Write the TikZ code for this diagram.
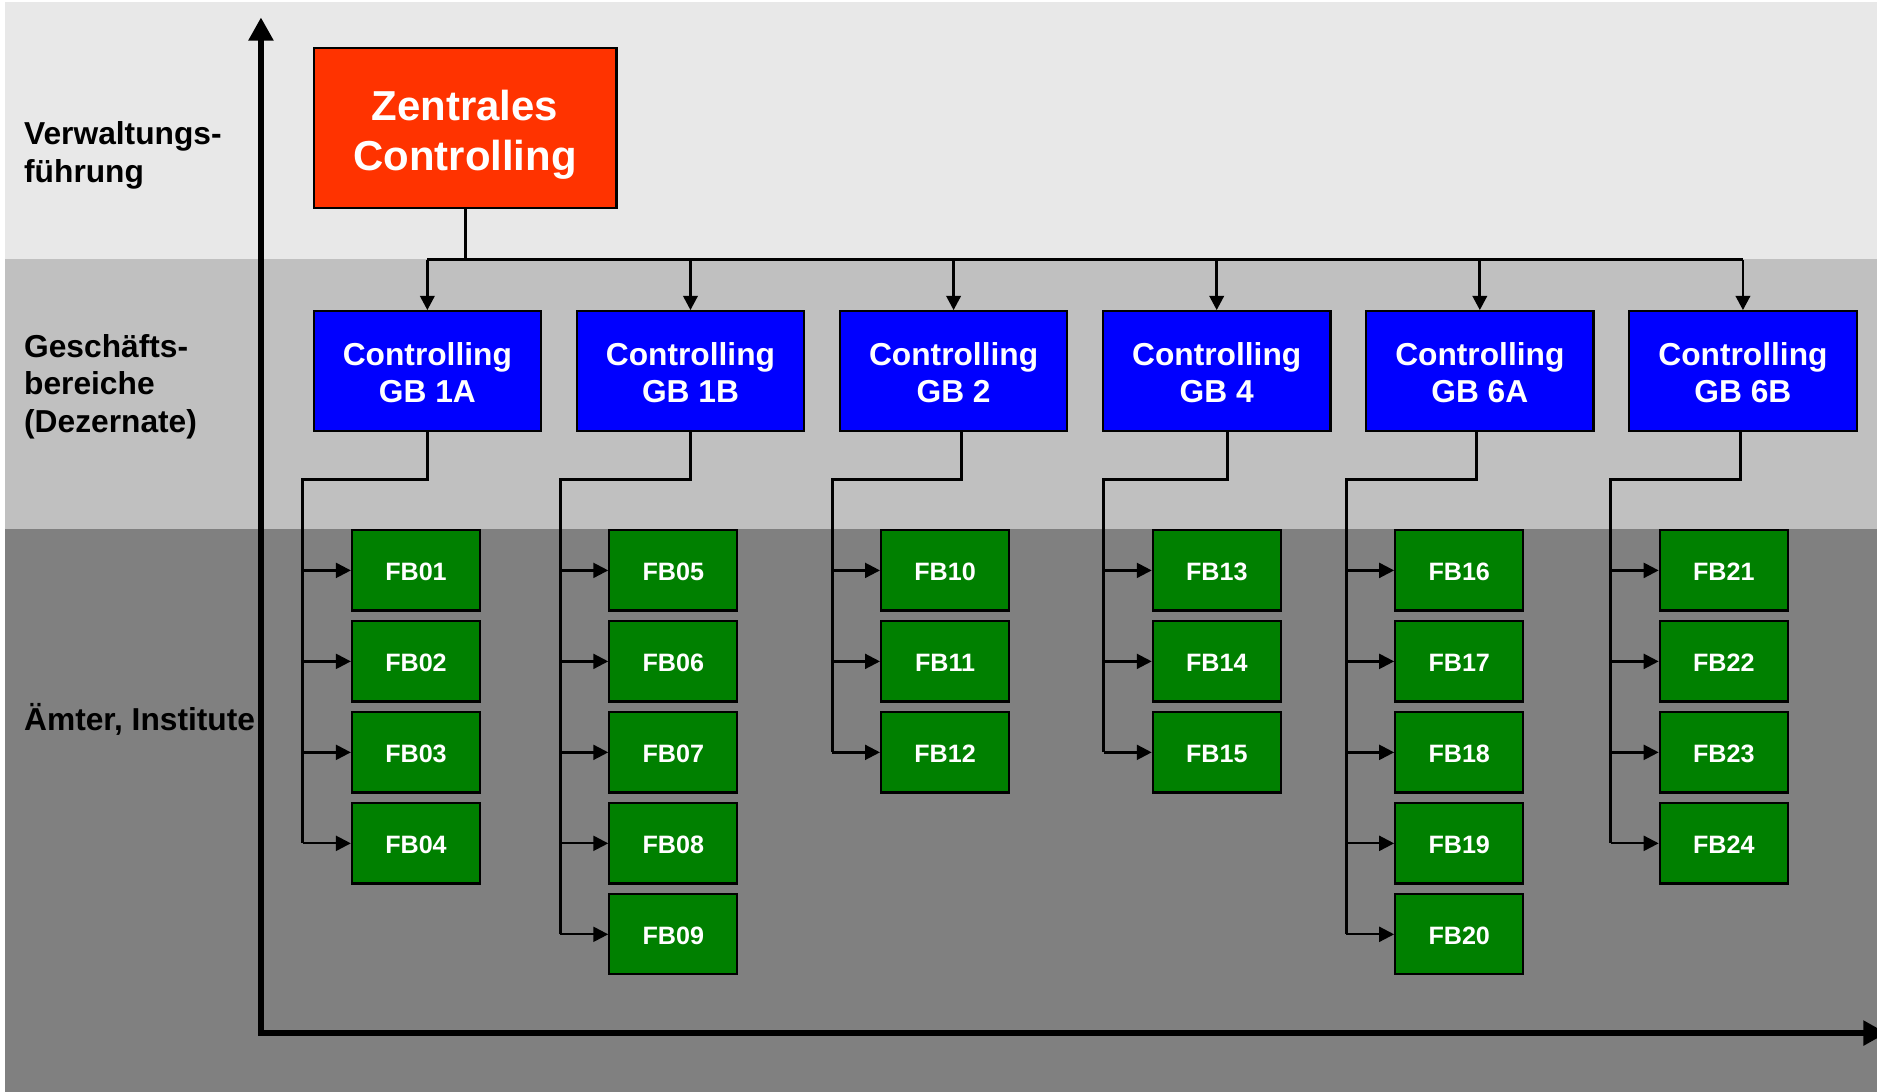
\documentclass[tikz,border=0pt]{standalone}
\usepackage{fontspec}
\setmainfont{Liberation Sans}
\usetikzlibrary{arrows.meta}
\definecolor{bandtop}{HTML}{E8E8E8}
\definecolor{bandmid}{HTML}{C0C0C0}
\definecolor{bandlow}{HTML}{808080}
\definecolor{ctrlred}{HTML}{FF3300}
\definecolor{ctrlblue}{HTML}{0000FF}
\definecolor{ctrlgreen}{HTML}{008000}
\newcommand{\topgap}[1]{\rule{0pt}{#1}}

\begin{document}
\begin{tikzpicture}[x=1pt,y=-1pt,
    box/.style={draw=black, line width=1.8pt, inner sep=0pt, text=white, align=center},
    zentral/.style={box, fill=ctrlred, minimum width=253pt, minimum height=134pt,
        font=\bfseries\fontsize{35}{42}\selectfont},
    gbbox/.style={box, fill=ctrlblue, minimum width=190pt, minimum height=100pt,
        font=\bfseries\fontsize{26.5}{31}\selectfont},
    fbbox/.style={box, fill=ctrlgreen, minimum width=107pt, minimum height=67pt,
        font=\bfseries\fontsize{21}{25}\selectfont},
    level/.style={anchor=west, align=left, inner sep=0pt,
        font=\bfseries\fontsize{26.5}{31.5}\selectfont},
    line/.style={line width=2.5pt},
    link/.style={line width=2.4pt, -{Triangle[length=12pt,width=12pt]}},
    sublink/.style={line width=1.9pt, -{Triangle[length=12.5pt,width=12.5pt]}},
    axis/.style={line width=5.5pt, line join=miter,
        {Triangle[length=19.5pt,width=20pt]}-{Triangle[length=19.5pt,width=20pt]}}]

    % Bands
    \useasboundingbox (0,0) rectangle (1568,912);
    \fill[white] (0,0) rectangle (1568,912);
    \fill[bandtop] (4,2) rectangle (1568,216);
    \fill[bandmid] (4,216) rectangle (1568,442);
    \fill[bandlow] (4,442) rectangle (1568,912);

    % Levels
    \node[level] (lvl1) at (20,130) {Verwaltungs-\\führung};
    \node[level] (lvl2) at (20,323) {Geschäfts-\\bereiche\\(Dezernate)};
    \node[level] (lvl3) at (20,601) {Ämter, Institute};

    % Axes
    \coordinate (origin) at (218,863);
    \coordinate (ytip) at (218,14.5);
    \coordinate (xtip) at (1576,863);
    \draw[axis] (ytip) -- (origin) -- (xtip);

    % Central controlling
    \node[zentral] (zc) at (388.5,107) {\topgap{36pt}Zentrales\\Controlling};

    % Business areas
    \foreach \i/\gb in {1/1A,2/1B,3/2,4/4,5/6A,6/6B} {
        \node[gbbox] (gb\i) at ({357+219.8*(\i-1)},310) {\topgap{22pt}Controlling\\GB \gb};
    }

    \draw[line] (zc.south) -- ++(0,42) coordinate (hub);
    \draw[line] (gb1.north |- hub) -- (gb6.north |- hub);
    \foreach \i in {1,...,6} {
        \draw[link] (gb\i.north |- hub) -- (gb\i.north);
    }

    % Departments
    \foreach \c/\x/\first/\n in {1/347.5/1/4, 2/562.5/5/5, 3/789.5/10/3,
                                4/1016.5/13/3, 5/1219/16/5, 6/1440/21/4} {
        \foreach \j in {1,...,\n} {
            \pgfmathtruncatemacro{\k}{\first+\j-1}
            \edef\fbname{\ifnum\k<10 0\fi\k}
            \node[fbbox] (fb\fbname) at (\x,{400.5+76*\j}) {\topgap{17pt}FB\fbname};
            \draw[sublink] ([xshift=-40pt]fb\fbname.west) -- (fb\fbname.west);
        }
    }

    % Trunks
    \foreach \c/\dx/\last in {1/0/04, 2/0/09, 3/7/12, 4/9/15, 5/-3/20, 6/-2/24} {
        \draw[line] ([xshift=\dx pt]gb\c.south) -- ++(0,40) -| ([xshift=-40pt]fb\last.west);
    }
\end{tikzpicture}
\end{document}
